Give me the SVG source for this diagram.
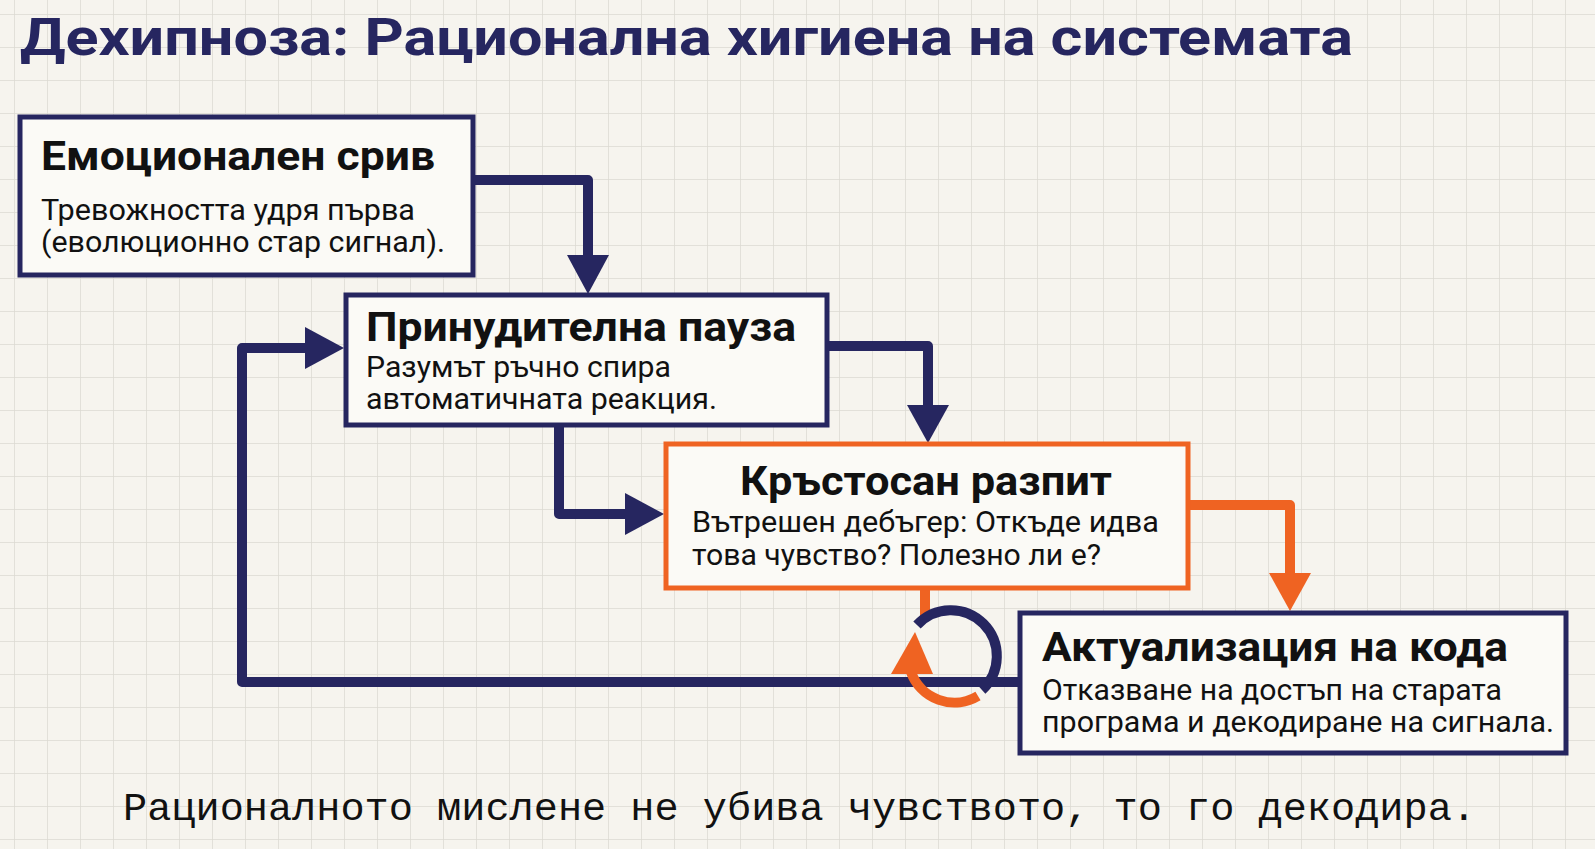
<svg xmlns="http://www.w3.org/2000/svg" width="1595" height="849" viewBox="0 0 1595 849">
<defs>
<pattern id="grid" width="33" height="33" patternUnits="userSpaceOnUse" x="15" y="15">
<path d="M33 0V33M0 33H33" fill="none" stroke="#dcdad2" stroke-width="1.5"/>
</pattern>
<style>
.box{fill:#fbfaf6;stroke:#262660;stroke-width:5}
.obox{fill:#fbfaf6;stroke:#ef6322;stroke-width:5}
.t{font-family:Roboto,"Liberation Sans",sans-serif;font-weight:700;font-size:40px;fill:#111}
.b{font-family:Roboto,"Liberation Sans",sans-serif;font-size:30px;fill:#111}
.n{fill:none;stroke:#262660;stroke-width:10;stroke-linejoin:round}
.o{fill:none;stroke:#ef6322;stroke-width:10;stroke-linejoin:round}
</style>
</defs>
<rect width="1595" height="849" fill="#f6f4ee"/>
<rect width="1595" height="849" fill="url(#grid)"/>
<text x="20" y="55" font-family="Roboto,'Liberation Sans',sans-serif" font-weight="700" font-size="52" fill="#262660" textLength="1333" lengthAdjust="spacingAndGlyphs">Дехипноза: Рационална хигиена на системата</text>
<g id="connectors">
<path class="n" d="M473 180H588V260"/><polygon fill="#262660" points="567,255 609,255 588,294"/>
<path class="n" d="M827 346H928V410"/><polygon fill="#262660" points="907,405 949,405 928,443"/>
<path class="n" d="M559 425V514H630"/><polygon fill="#262660" points="625,493 625,535 664,514"/>
<path class="o" d="M1188 505H1290V578"/><polygon fill="#ef6322" points="1269,573 1311,573 1290,611"/>
<path class="n" d="M1020 682H242V348H310"/><polygon fill="#262660" points="305,327 305,369 344,348"/>
<path class="o" d="M925 588V616"/>
<path class="n" d="M917 625A46 46 0 1 1 982 690"/>
<path class="o" d="M978 696A46 46 0 0 1 911 672"/>
<polygon fill="#ef6322" points="891,674 933,674 915,632"/>
</g>
<g id="n1"><rect class="box" x="20" y="117" width="453" height="158"/>
<text class="t" x="41" y="170" textLength="394" lengthAdjust="spacingAndGlyphs">Емоционален срив</text>
<text class="b" x="41" y="220" textLength="374" lengthAdjust="spacingAndGlyphs">Тревожността удря първа</text>
<text class="b" x="41" y="252" textLength="404" lengthAdjust="spacingAndGlyphs">(еволюционно стар сигнал).</text></g>
<g id="n2"><rect class="box" x="346" y="295" width="481" height="130"/>
<text class="t" x="366" y="341" textLength="430" lengthAdjust="spacingAndGlyphs">Принудителна пауза</text>
<text class="b" x="366" y="377" textLength="305" lengthAdjust="spacingAndGlyphs">Разумът ръчно спира</text>
<text class="b" x="366" y="409" textLength="351" lengthAdjust="spacingAndGlyphs">автоматичната реакция.</text></g>
<g id="n3"><rect class="obox" x="666" y="444" width="522" height="144"/>
<text class="t" x="740" y="495" textLength="372" lengthAdjust="spacingAndGlyphs">Кръстосан разпит</text>
<text class="b" x="692" y="532" textLength="467" lengthAdjust="spacingAndGlyphs">Вътрешен дебъгер: Откъде идва</text>
<text class="b" x="692" y="565" textLength="409" lengthAdjust="spacingAndGlyphs">това чувство? Полезно ли е?</text></g>
<g id="n4"><rect class="box" x="1020" y="613" width="546" height="140"/>
<text class="t" x="1042" y="661" textLength="466" lengthAdjust="spacingAndGlyphs">Актуализация на кода</text>
<text class="b" x="1042" y="700" textLength="460" lengthAdjust="spacingAndGlyphs">Отказване на достъп на старата</text>
<text class="b" x="1042" y="732" textLength="512" lengthAdjust="spacingAndGlyphs">програма и декодиране на сигнала.</text></g>
<text x="123" y="820" font-family="'Liberation Mono','DejaVu Sans Mono',monospace" font-size="39" fill="#111" textLength="1353" lengthAdjust="spacingAndGlyphs">Рационалното мислене не убива чувството, то го декодира.</text>
</svg>
